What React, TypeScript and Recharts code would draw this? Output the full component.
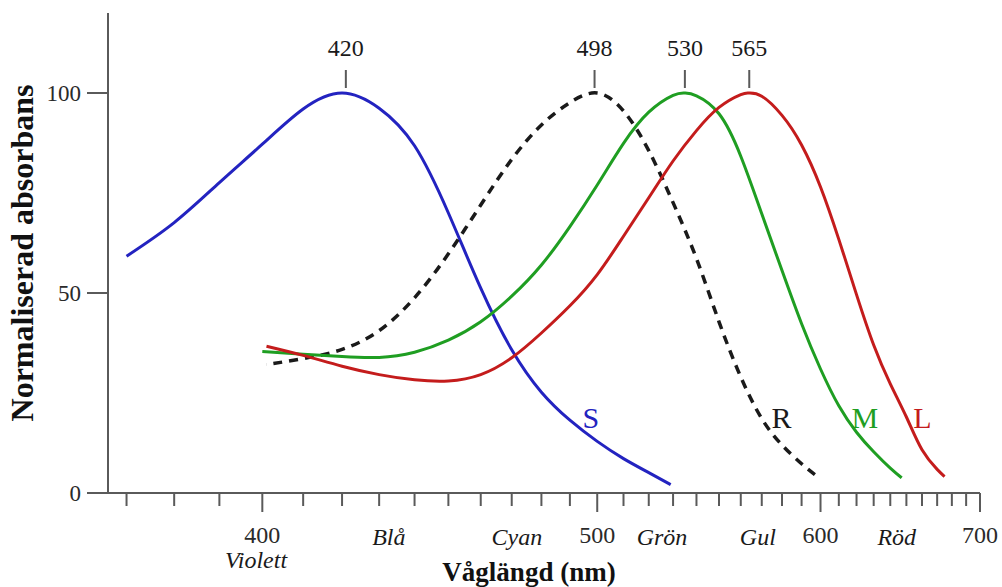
/**
 * Tappkänslighet – normaliserad absorbans för S, R (stavar), M och L
 * - x-axeln är linjär i 1/λ (vågtal), etiketter i nm
 */
import {
  LineChart, Line, XAxis, YAxis, ReferenceLine, ReferenceDot,
} from 'recharts'

const FONT = '"Liberation Serif", "Times New Roman", serif'
const AXIS = '#5a5a5a'

// S-tappar (blå)
const sNm  = [370, 380, 390, 400, 410, 420, 430, 440, 450, 460, 470, 480, 490, 500, 510, 520, 529]
const sVal = [59.2, 67.6, 77.6, 87.2, 96.0, 100, 96.2, 86.8, 70, 51.2, 35.8, 25.2, 18.2, 12.9, 8.6, 5.1, 2.1]

// Stavar (R, streckad)
const rNm  = [401, 410, 420, 430, 440, 450, 460, 470, 480, 490, 500, 510, 520, 530, 540, 550, 560, 570, 580, 590, 597]
const rVal = [32.1, 33.6, 35.9, 40.6, 48.8, 59.8, 72.0, 83.4, 92.0, 97.6, 100, 95.5, 85.6, 72.6, 58.6, 42.8, 29.0, 18.6, 12.0, 7.3, 4.6]

// M-tappar (grön)
const mNm  = [400, 410, 420, 430, 440, 450, 460, 470, 480, 490, 500, 510, 520, 530, 535, 540, 550, 560, 570, 580, 590, 600, 610, 620, 630, 640, 647]
const mVal = [35.4, 34.7, 34.1, 33.9, 35.2, 38.2, 42.8, 49.2, 57.0, 66.6, 77, 87.4, 95.2, 99.4, 100, 99.3, 94.8, 84.2, 69.8, 55.6, 42.3, 31.0, 21.8, 15.2, 10.3, 6.2, 3.8]

// L-tappar (röd)
const lNm  = [401, 410, 420, 430, 440, 450, 460, 470, 480, 490, 500, 510, 520, 530, 540, 550, 560, 564, 570, 580, 590, 600, 610, 620, 630, 640, 650, 660, 670, 675]
const lVal = [36.7, 34.4, 31.7, 29.6, 28.3, 28.0, 29.6, 33.8, 40.0, 46.8, 54.6, 64.2, 73.8, 83.0, 90.6, 96.4, 99.6, 100, 99.2, 94.4, 87.0, 76.5, 63.4, 49.6, 37.0, 27.3, 19.0, 10.8, 5.9, 4.1]

const tickNm = [370, 380, 390, 400, 410, 420, 430, 440, 450, 460, 470, 480, 490, 500, 510, 520, 530, 540, 550, 560, 570, 580, 590, 600, 610, 620, 630, 640, 650, 660, 670, 680, 690, 700]
const yTicks = [0, 50, 100]

const peakNm   = [421, 499, 535, 564]
const peakText = ['420', '498', '530', '565']

const colorNames = ['Violett', 'Blå', 'Cyan', 'Grön', 'Gul', 'Röd']
const colorNm    = [398.5, 432.7, 471.7, 525.4, 568.1, 644.0]

const curveNames  = ['S', 'R', 'M', 'L']
const curveNameNm = [497.6, 579.8, 624.8, 660.2]
const curveNameY  = [16.3, 16.3, 16.3, 16.3]

const COLORS = { S: '#2323c0', R: '#1a1a1a', M: '#1f9e22', L: '#c41c1c' } as Record<string, string>

const wn = (nm: number) => 1e7 / nm
const toRows = (nm: number[], v: number[]) =>
  nm.map((n, i) => ({ wn: wn(n), v: v[i] })).reverse()

const sData = toRows(sNm, sVal)
const rData = toRows(rNm, rVal)
const mData = toRows(mNm, mVal)
const lData = toRows(lNm, lVal)

function WaveTick(props: any) {
  const { x, y, payload } = props
  const nm = Math.round(1e7 / payload.value)
  const major = nm % 100 === 0
  return (
    <g>
      <line x1={x} x2={x} y1={y} y2={y + (major ? 19 : 13)} stroke={AXIS} strokeWidth={2} />
      {major && (
        <text x={x} y={y + 50} textAnchor="middle" fontSize={24} fill="#2a2a2a" fontFamily={FONT}>{nm}</text>
      )}
    </g>
  )
}

export default function App() {
  return (
    <div style={{ position: 'absolute', left: 0, top: 0, width: 1002, height: 587, background: '#fff' }}>
      <LineChart width={1002} height={587} margin={{ top: 13, right: 22, bottom: 0, left: 0 }}>
        <XAxis
          type="number" dataKey="wn" reversed
          domain={[1e7 / 700, 1e7 / 366.25]} allowDataOverflow
          ticks={tickNm.map(wn)} interval={0}
          tickSize={0} tickMargin={0} tickLine={false}
          tick={<WaveTick />}
          axisLine={{ stroke: AXIS, strokeWidth: 2 }}
          height={94}
          label={{ value: 'Våglängd (nm)', position: 'insideBottom', offset: 6, dx: -15, fontSize: 27, fontWeight: 'bold', fill: '#111', fontFamily: FONT }}
        />
        <YAxis
          type="number" domain={[0, 120]} ticks={yTicks} width={108}
          tickSize={21} tickMargin={6}
          tickLine={{ stroke: AXIS, strokeWidth: 2 }}
          axisLine={{ stroke: AXIS, strokeWidth: 2 }}
          tick={{ fontSize: 23, fill: '#2a2a2a', fontFamily: FONT }}
          label={{ value: 'Normaliserad absorbans', angle: -90, position: 'insideLeft', offset: 22, fontSize: 32, fontWeight: 'bold', fill: '#111', fontFamily: FONT, style: { textAnchor: 'middle' } }}
        />

        <Line data={sData} dataKey="v" type="natural" stroke={COLORS.S} strokeWidth={3} dot={false} activeDot={false} isAnimationActive={false} />
        <Line data={rData} dataKey="v" type="natural" stroke={COLORS.R} strokeWidth={3.5} strokeDasharray="9 7" dot={false} activeDot={false} isAnimationActive={false} />
        <Line data={mData} dataKey="v" type="natural" stroke={COLORS.M} strokeWidth={3} dot={false} activeDot={false} isAnimationActive={false} />
        <Line data={lData} dataKey="v" type="natural" stroke={COLORS.L} strokeWidth={3} dot={false} activeDot={false} isAnimationActive={false} />

        {/* toppmarkeringar */}
        {peakNm.map((n, i) => (
          <ReferenceLine key={`pl${i}`} segment={[{ x: wn(n), y: 101.25 }, { x: wn(n), y: 105.75 }]} stroke={AXIS} strokeWidth={2} />
        ))}
        {peakNm.map((n, i) => (
          <ReferenceDot
            key={`pt${i}`} x={wn(n)} y={109.25} r={0}
            shape={(p: any) => (
              <text x={p.cx} y={p.cy} textAnchor="middle" fontSize={24} fill="#1a1a1a" fontFamily={FONT}>{peakText[i]}</text>
            )}
          />
        ))}

        {/* kurvnamn */}
        {curveNames.map((c, i) => (
          <ReferenceDot
            key={`cn${i}`} x={wn(curveNameNm[i])} y={curveNameY[i]} r={0}
            shape={(p: any) => (
              <text x={p.cx} y={p.cy} textAnchor="middle" fontSize={30} fill={COLORS[c]} fontFamily={FONT}>{c}</text>
            )}
          />
        ))}

        {/* färgnamn under x-axeln */}
        {colorNames.map((c, i) => (
          <ReferenceDot
            key={`col${i}`} x={wn(colorNm[i])} y={0} r={0} ifOverflow="visible"
            shape={(p: any) => (
              <text x={p.cx} y={p.cy + (c === 'Violett' ? 75 : 52)} textAnchor="middle" fontSize={24} fontStyle="italic" fill="#1a1a1a" fontFamily={FONT}>{c}</text>
            )}
          />
        ))}
      </LineChart>
    </div>
  )
}
